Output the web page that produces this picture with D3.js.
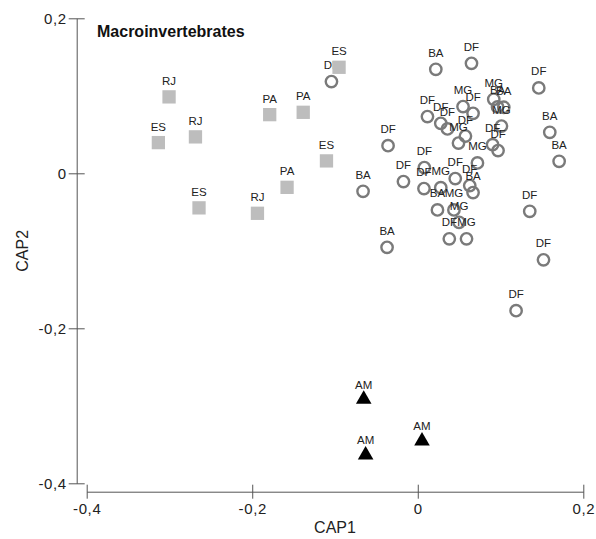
<!DOCTYPE html>
<html>
<head>
<meta charset="utf-8">
<script src="https://cdn.jsdelivr.net/npm/d3@7"></script>
<style>
  body { margin: 0; background: #fff; }
  svg { display: block; }
</style>
</head>
<body>
<div id="chart"></div>
<script>
// ---- Data ----
const squareLabels = ["RJ","ES","RJ","ES","PA","PA","PA","RJ","ES","ES"];
const squareX = [-0.3005,-0.3134,-0.2686,-0.2643,-0.1789,-0.1384,-0.1579,-0.1937,-0.1103,-0.0951];
const squareY = [0.0986,0.0396,0.0470,-0.0446,0.0757,0.0787,-0.0181,-0.0516,0.0160,0.1368];

const circleLabels = ["DF","BA","DF","DF","BA","BA","DF","BA","BA","DF",
  "DF","DF","DF","DF","DF","DF","MG","DF","DF","MG",
  "MG","BA","BA","MG","DF","DF","MG","DF","DF","DF",
  "BA","DF","MG","BA","MG","MG","DF","MG"];
const circleX = [-0.1043,0.0218,0.0649,0.1462,0.1595,0.1708,-0.0359,-0.0661,-0.0371,-0.0173,
  0.1353,0.1519,0.1188,0.0117,0.0278,0.0359,0.0547,0.0668,0.0576,0.0492,
  0.0918,0.0964,0.1039,0.1011,0.0904,0.0970,0.0721,0.0080,0.0453,0.0628,
  0.0668,0.0075,0.0278,0.0238,0.0437,0.0499,0.0381,0.0589];
const circleY = [0.1183,0.1342,0.1419,0.1102,0.0529,0.0155,0.0357,-0.0232,-0.0955,-0.0107,
  -0.0490,-0.1117,-0.1772,0.0732,0.0645,0.0573,0.0861,0.0774,0.0480,0.0390,
  0.0955,0.0857,0.0852,0.0609,0.0370,0.0293,0.0134,0.0074,-0.0068,-0.0159,
  -0.0249,-0.0197,-0.0185,-0.0472,-0.0472,-0.0632,-0.0846,-0.0846];

const triangleLabels = ["AM","AM","AM"];
const triangleX = [-0.0653,-0.0630,0.0051];
const triangleY = [-0.2914,-0.3634,-0.3453];

const xTicks = [-0.4,-0.2,0,0.2];
const xTickLabels = ["-0,4","-0,2","0","0,2"];
const yTicks = [-0.4,-0.2,0,0.2];
const yTickLabels = ["-0,4","-0,2","0","0,2"];

const title = "Macroinvertebrates";
const xTitle = "CAP1";
const yTitle = "CAP2";

// ---- Chart ----
const W = 596, H = 539;
const svg = d3.select("#chart").append("svg").attr("width", W).attr("height", H);

const x = d3.scaleLinear().domain([-0.4, 0.2]).range([86.7, 583.3]);
const y = d3.scaleLinear().domain([-0.4, 0.2]).range([483.3, 18.3]);
const xAxisY = 491.7, yAxisX = 76.7;
const axisColor = "#555";
const font = "Arial, 'Liberation Sans', Helvetica, sans-serif";

// X axis
const xAxis = svg.append("g").attr("transform", `translate(0,${xAxisY})`)
  .call(d3.axisBottom(x).tickValues(xTicks).tickSize(7).tickSizeOuter(0)
    .tickFormat((d, i) => xTickLabels[i]));
xAxis.select(".domain").attr("stroke", axisColor);
xAxis.selectAll(".tick line").attr("y1", -7).attr("y2", 7).attr("stroke", axisColor);
xAxis.selectAll(".tick text").attr("y", 12).attr("dy", "0.71em")
  .attr("font-family", font).attr("font-size", 15).attr("letter-spacing", 0.6).attr("fill", "#222");

// Y axis
const yAxis = svg.append("g").attr("transform", `translate(${yAxisX},0)`)
  .call(d3.axisLeft(y).tickValues(yTicks).tickSize(8).tickSizeOuter(0)
    .tickFormat((d, i) => yTickLabels[i]));
yAxis.select(".domain").attr("stroke", axisColor);
yAxis.selectAll(".tick line").attr("x1", -8).attr("x2", 8).attr("stroke", axisColor);
yAxis.selectAll(".tick text").attr("x", -10).attr("dy", "0.35em")
  .attr("font-family", font).attr("font-size", 15).attr("letter-spacing", 0.6).attr("fill", "#222");

// Titles
svg.append("text").attr("x", 97).attr("y", 36.5).text(title)
  .attr("font-family", font).attr("font-size", 16).attr("font-weight", "bold").attr("fill", "#111");
svg.append("text").attr("x", (x.range()[0] + x.range()[1]) / 2).attr("y", 533)
  .attr("text-anchor", "middle").text(xTitle)
  .attr("font-family", font).attr("font-size", 16).attr("fill", "#222");
svg.append("text")
  .attr("transform", `translate(27.5,${(y.range()[0] + y.range()[1]) / 2}) rotate(-90)`)
  .attr("text-anchor", "middle").text(yTitle)
  .attr("font-family", font).attr("font-size", 16).attr("fill", "#222");

const labelStyle = sel => sel.attr("font-family", font).attr("font-size", 11.5)
  .attr("text-anchor", "middle").attr("fill", "#222");

// Circles
const circ = circleX.map((v, i) => ({x: v, y: circleY[i], l: circleLabels[i]}));
svg.append("g").selectAll("circle").data(circ).join("circle")
  .attr("cx", d => x(d.x)).attr("cy", d => y(d.y)).attr("r", 5.7)
  .attr("fill", "none").attr("stroke", "#7a7a7a").attr("stroke-width", 2.4);
svg.append("g").selectAll("text").data(circ).join("text")
  .attr("x", d => x(d.x)).attr("y", d => y(d.y) - 12.5).text(d => d.l).call(labelStyle);

// Squares
const sq = squareX.map((v, i) => ({x: v, y: squareY[i], l: squareLabels[i]}));
svg.append("g").selectAll("path").data(sq).join("path")
  .attr("transform", d => `translate(${x(d.x)},${y(d.y)})`)
  .attr("d", d3.symbol(d3.symbolSquare, 177)())
  .attr("fill", "#bdbdbd");
svg.append("g").selectAll("text").data(sq).join("text")
  .attr("x", d => x(d.x)).attr("y", d => y(d.y) - 12).text(d => d.l).call(labelStyle);

// Triangles
const tri = triangleX.map((v, i) => ({x: v, y: triangleY[i], l: triangleLabels[i]}));
svg.append("g").selectAll("path").data(tri).join("path")
  .attr("transform", d => `translate(${x(d.x)},${y(d.y)})`)
  .attr("d", d3.symbol(d3.symbolTriangle, 105)())
  .attr("fill", "#000");
svg.append("g").selectAll("text").data(tri).join("text")
  .attr("x", d => x(d.x)).attr("y", d => y(d.y) - 10.5).text(d => d.l).call(labelStyle);
</script>
</body>
</html>
